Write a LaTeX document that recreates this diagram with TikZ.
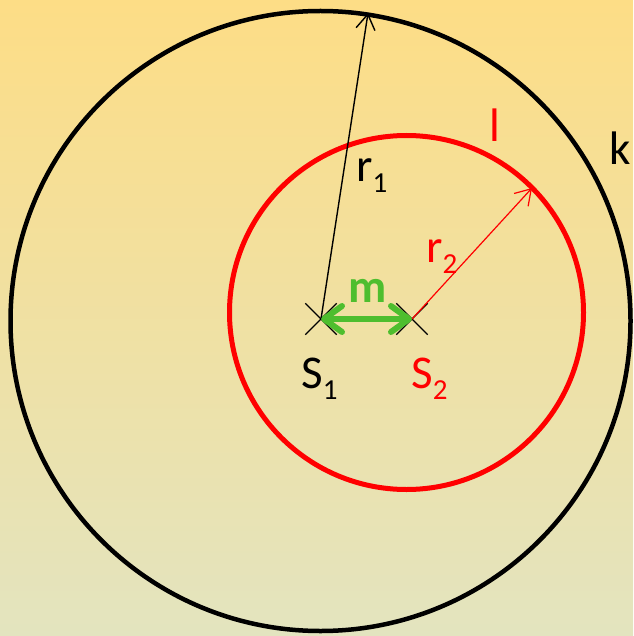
\documentclass[tikz,border=0pt]{standalone}
\usepackage{fontspec}
\setmainfont{Carlito}
\usetikzlibrary{arrows.meta,shapes.misc}
\definecolor{topbg}{RGB}{253,221,134}
\definecolor{botbg}{RGB}{227,228,191}
\definecolor{mgreen}{RGB}{78,190,46}
\definecolor{lred}{RGB}{255,0,0}
\newcommand\lsub[1]{\raisebox{-11pt}{\fontsize{29}{30}\selectfont #1}}
\begin{document}
\begin{tikzpicture}[x=1pt,y=-1pt,
  lbl/.style={inner sep=0pt, anchor=base west, font=\fontsize{47}{50}\selectfont},
  xmark/.style={cross out, draw=black, line width=1.4pt, minimum size=30pt, inner sep=0pt},
  radarrow/.style={-{Straight Barb[length=15pt,width=19pt]}},
  kcircle/.style={draw=black, line width=4.5pt},
  redcircle/.style={draw=lred, line width=5pt}]
\useasboundingbox (0,0) rectangle (633,636);
\shade[top color=topbg, bottom color=botbg] (0,0) rectangle (633,636);

\draw[kcircle] (320.5,321) circle[radius=310pt];
\draw[redcircle] (406.5,312.5) circle[radius=177pt];

\node[xmark] (S1) at (321,319) {};
\node[xmark] (S2) at (412,319) {};
\coordinate (T1) at (368,13);
\coordinate (T2) at (532,188);

\draw[radarrow, line width=1.4pt] (S1.center) -- (T1);
\draw[radarrow, draw=lred, line width=1.2pt] (S2.center) -- (T2);
\draw[mgreen, line width=6pt, {Straight Barb[round,length=18pt,width=26pt]}-{Straight Barb[round,length=18pt,width=26pt]}] (S1.center) -- (S2.center);

\node[lbl] (lr1) at (356,182) {r\lsub{1}};
\node[lbl, text=lred] (lr2) at (426,262) {r\lsub{2}};
\node[lbl] (lS1) at (301,388) {S\lsub{1}};
\node[lbl, text=lred] (lS2) at (411,388) {S\lsub{2}};
\node[lbl, text=mgreen, font=\fontsize{47}{50}\selectfont\bfseries] (lm) at (348,302) {m};
\node[lbl, text=lred] (ll) at (489,142) {l};
\node[lbl] (lk) at (609,165) {k};
\end{tikzpicture}
\end{document}
